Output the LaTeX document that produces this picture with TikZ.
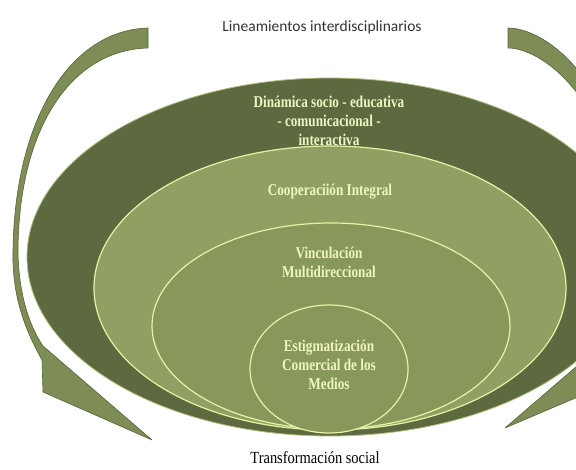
\documentclass[tikz,border=0pt]{standalone}
\usepackage{fontspec}
\setmainfont{Liberation Serif}
\newfontfamily\condserif[FakeStretch=0.8]{Liberation Serif}
\newfontfamily\labelserif[FakeStretch=0.85]{Liberation Serif}
\newfontfamily\labelsans{Carlito}
\usepackage{tikz}
\definecolor{darkolive}{HTML}{5D6A40}
\definecolor{midolive}{HTML}{8FA062}
\definecolor{innerolive}{HTML}{87985A}
\definecolor{arrowolive}{HTML}{7D8D55}
\definecolor{edgeolive}{HTML}{55633A}
\definecolor{paleline}{HTML}{E6F3A6}
\definecolor{paletext}{HTML}{EEF5C0}
\tikzstyle{ring} = [draw=paleline, line width=1.2pt]
\tikzstyle{bigarrow} = [fill=arrowolive, draw=edgeolive, line width=0.6pt, line join=round]
\tikzstyle{ringtext} = [text=paletext, align=center, font=\condserif\bfseries\fontsize{16.5}{19}\selectfont]
\tikzstyle{toplabel} = [text=black!80, font=\labelsans\fontsize{15.5}{18}\selectfont]
\tikzstyle{bottomlabel} = [text=black, inner sep=1pt, font=\labelserif\fontsize{17}{20}\selectfont]

\begin{document}
\begin{tikzpicture}[x=1pt, y=-1pt]
    \clip (0,0) rectangle (576,470);
    \filldraw[fill=darkolive, draw=paleline!60!darkolive, line width=0.8pt]
        (330,257) ellipse [x radius=303pt, y radius=179pt];
    \filldraw[ring, fill=midolive] (330,288) ellipse [x radius=236pt, y radius=142pt];
    \filldraw[ring, fill=innerolive] (331,326) ellipse [x radius=179pt, y radius=103pt];
    \filldraw[ring, fill=innerolive] (329,369) ellipse [x radius=79pt, y radius=64pt];
    \filldraw[bigarrow] (148,28) .. controls (70,30) and (14,120) .. (13,253)
        .. controls (12,300) and (28,335) .. (42,360)
        -- (43,392) -- (152,440) -- (43,346)
        .. controls (32,330) and (19,300) .. (18,253)
        .. controls (18,130) and (70,50) .. (148,48) -- cycle;
    \filldraw[bigarrow] (508,28) .. controls (545,28) and (625,80) .. (640,253)
        .. controls (642,300) and (626,335) .. (614,350)
        -- (613,382) -- (505,428) -- (613,335)
        .. controls (622,318) and (633,295) .. (633,253)
        .. controls (615,95) and (540,48) .. (508,48) -- cycle;
    \node (lines) [toplabel] at (322,27) {Lineamientos interdisciplinarios};
    \node (dyn) [ringtext] at (329,121) {Dinámica socio - educativa\\- comunicacional -\\interactiva};
    \node (coop) [ringtext] at (330,192) {Cooperaciión Integral};
    \node (vinc) [ringtext] at (329,262) {Vinculación\\Multidireccional};
    \node (estig) [ringtext] at (329,365) {Estigmatización\\Comercial de los\\Medios};
    \node (trans) [bottomlabel] at (315,458) {Transformación social};
\end{tikzpicture}
\end{document}
